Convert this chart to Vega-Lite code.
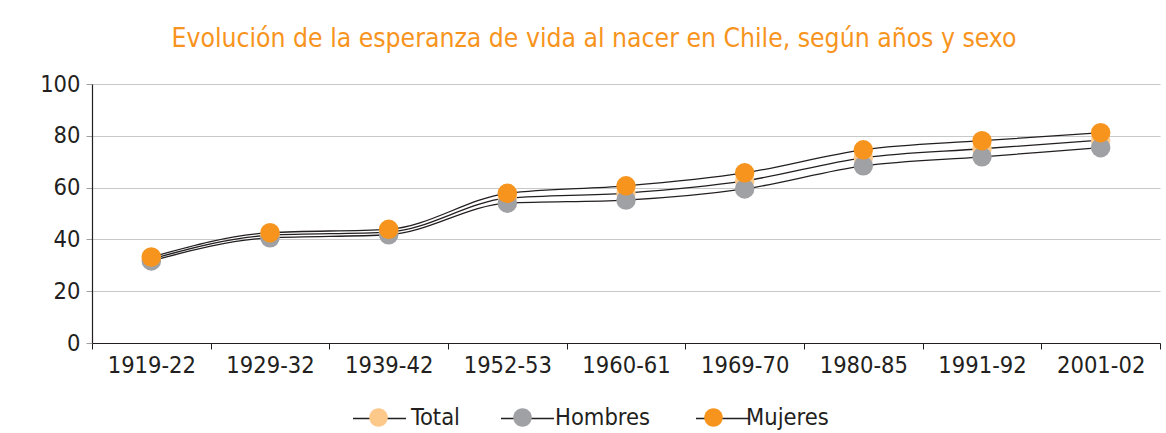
{
  "$schema": "https://vega.github.io/schema/vega-lite/v6.json",
  "autosize": {"type": "none"},
  "width": 1068,
  "height": 259,
  "padding": {"left": 92, "top": 84, "right": 6, "bottom": 90},
  "background": "white",
  "title": {
    "text": "Evolución de la esperanza de vida al nacer en Chile, según años y sexo",
    "font": "DejaVu Sans Condensed",
    "fontSize": 26.3,
    "fontWeight": "normal",
    "color": "#F7941D",
    "anchor": "middle",
    "dx": -32,
    "offset": 20
  },
  "config": {
    "view": {"stroke": null},
    "font": "DejaVu Sans Condensed",
    "axis": {
      "labelFont": "DejaVu Sans Condensed",
      "labelFontSize": 23.5,
      "labelColor": "#231F20",
      "title": null
    },
    "legend": {
      "labelFont": "DejaVu Sans Condensed",
      "labelFontSize": 23.5,
      "labelColor": "#231F20"
    }
  },
  "data": {
    "values": [
      {"periodo": "1919-22", "serie": "Total", "valor": 32.4},
      {"periodo": "1929-32", "serie": "Total", "valor": 41.6},
      {"periodo": "1939-42", "serie": "Total", "valor": 42.8},
      {"periodo": "1952-53", "serie": "Total", "valor": 55.9},
      {"periodo": "1960-61", "serie": "Total", "valor": 57.9},
      {"periodo": "1969-70", "serie": "Total", "valor": 62.6},
      {"periodo": "1980-85", "serie": "Total", "valor": 71.5},
      {"periodo": "1991-92", "serie": "Total", "valor": 75.0},
      {"periodo": "2001-02", "serie": "Total", "valor": 78.3},
      {"periodo": "1919-22", "serie": "Hombres", "valor": 31.7},
      {"periodo": "1929-32", "serie": "Hombres", "valor": 40.6},
      {"periodo": "1939-42", "serie": "Hombres", "valor": 41.8},
      {"periodo": "1952-53", "serie": "Hombres", "valor": 54.0},
      {"periodo": "1960-61", "serie": "Hombres", "valor": 55.2},
      {"periodo": "1969-70", "serie": "Hombres", "valor": 59.5},
      {"periodo": "1980-85", "serie": "Hombres", "valor": 68.4},
      {"periodo": "1991-92", "serie": "Hombres", "valor": 71.9},
      {"periodo": "2001-02", "serie": "Hombres", "valor": 75.4},
      {"periodo": "1919-22", "serie": "Mujeres", "valor": 33.2},
      {"periodo": "1929-32", "serie": "Mujeres", "valor": 42.6},
      {"periodo": "1939-42", "serie": "Mujeres", "valor": 43.9},
      {"periodo": "1952-53", "serie": "Mujeres", "valor": 57.8},
      {"periodo": "1960-61", "serie": "Mujeres", "valor": 60.7},
      {"periodo": "1969-70", "serie": "Mujeres", "valor": 65.7},
      {"periodo": "1980-85", "serie": "Mujeres", "valor": 74.6},
      {"periodo": "1991-92", "serie": "Mujeres", "valor": 78.1},
      {"periodo": "2001-02", "serie": "Mujeres", "valor": 81.2}
    ]
  },
  "encoding": {
    "x": {
      "field": "periodo",
      "type": "ordinal",
      "sort": null,
      "scale": {"type": "band", "paddingInner": 0, "paddingOuter": 0},
      "axis": {
        "labelAngle": 0,
        "domainColor": "#231F20",
        "domainWidth": 1.2,
        "tickColor": "#231F20",
        "tickSize": 6,
        "tickBand": "extent",
        "labelPadding": 4,
        "grid": false
      }
    },
    "y": {
      "field": "valor",
      "type": "quantitative",
      "scale": {"domain": [0, 100], "nice": false},
      "axis": {
        "values": [0, 20, 40, 60, 80, 100],
        "domainColor": "#231F20",
        "domainWidth": 1.2,
        "tickColor": "#A0A0A0",
        "tickSize": 6,
        "labelPadding": 6,
        "gridColor": "#C8C8C8",
        "gridWidth": 1.2
      }
    }
  },
  "layer": [
    {
      "mark": {"type": "line", "interpolate": "monotone", "strokeWidth": 1.3},
      "encoding": {
        "stroke": {
          "field": "serie",
          "type": "nominal",
          "scale": {"domain": ["Total", "Hombres", "Mujeres"], "range": ["#231F20", "#231F20", "#231F20"]},
          "legend": {
            "orient": "none",
            "legendX": 260,
            "legendY": 307,
            "direction": "horizontal",
            "title": null,
            "symbolType": "stroke",
            "symbolSize": 2809,
            "symbolStrokeWidth": 1.3,
            "labelOpacity": 0,
            "labelOffset": 6,
            "columnPadding": 36,
            "zindex": 0
          }
        }
      }
    },
    {
      "mark": {"type": "point", "filled": true, "shape": "circle", "size": 380, "opacity": 1},
      "encoding": {
        "fill": {
          "field": "serie",
          "type": "nominal",
          "sort": ["Total", "Hombres", "Mujeres"],
          "scale": {"range": ["#FDC98B", "#A0A1A5", "#F7941D"]},
          "legend": {
            "orient": "none",
            "legendX": 260,
            "legendY": 307,
            "direction": "horizontal",
            "title": null,
            "symbolType": "M0.35,0A0.35,0.35,0,1,1,-0.35,0A0.35,0.35,0,1,1,0.35,0Z",
            "symbolSize": 2809,
            "symbolStrokeWidth": 0,
            "symbolOpacity": 1,
            "labelOffset": 6,
            "columnPadding": 36,
            "zindex": 1
          }
        }
      }
    }
  ]
}
